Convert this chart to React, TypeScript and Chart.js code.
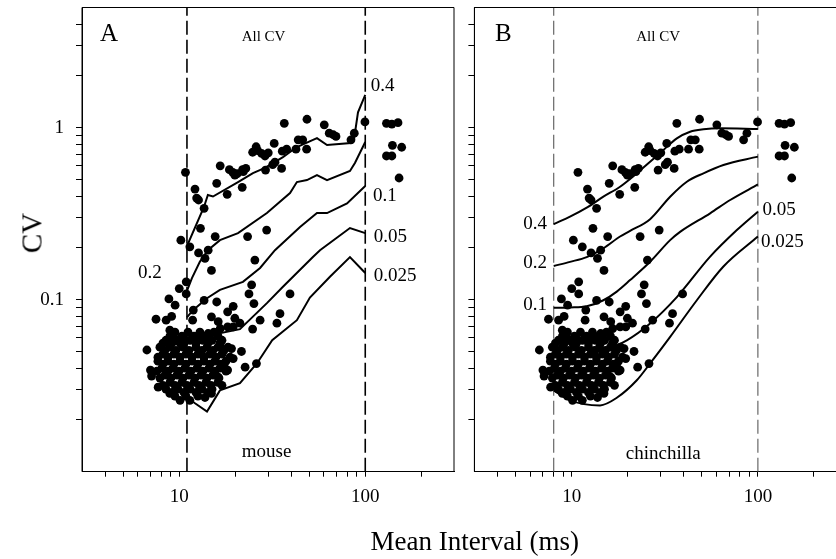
import React, { useEffect, useRef } from "react";
import { Chart, registerables } from "chart.js";
Chart.register(...registerables);

// ---------- axes ----------
const xMin = 3, xMax = 300;
const yMin = 0.01, yMax = 5;
const xTickValues = [4, 5, 6, 7, 8, 9, 10, 20, 30, 40, 50, 60, 70, 80, 90, 100, 200];
const xTickLabelValues = [10, 100];
const xTickLabels = ["10", "100"];
const yTickValues = [0.02, 0.03, 0.04, 0.05, 0.06, 0.07, 0.08, 0.09, 0.1, 0.2, 0.3, 0.4, 0.5, 0.6, 0.7, 0.8, 0.9, 1, 2, 3, 4];
const yTickLabelValues = [0.1, 1];
const yTickLabels = ["0.1", "1"];

// ---------- measured units (same data in both panels) ----------
const meanInterval = [
  10.8, 36.7, 48.6, 60.2, 64.0, 67.3, 69.6, 83.8, 87.3, 99.6,
  130, 139, 150, 140, 157, 130, 139, 152,
  12.15, 12.4, 12.7, 13.6, 15.9, 16.6, 18.1, 18.6, 19.4, 19.9, 20.5, 21.9, 22.8, 22.1, 21.8,
  24.8, 25.9, 26.4, 27.7, 28.9, 30.1, 29.1, 32.4, 31.8, 32.7, 35.5, 35.8, 37.8, 42.4, 43.6, 46.1, 48.4,
  10.2, 13.0, 15.6, 23.3, 29.5, 11.4, 12.7, 14.3, 13.75, 14.9,
  10.9, 10.0, 10.9, 25.5, 24.5, 23.7, 25.2, 39.4,
  13.6, 15.9, 19.5, 8.8, 9.5, 7.5, 8.5, 9.1,
  11.9, 11.8, 14.9, 16.2, 18.2, 19.9, 27.2, 24.8, 34.8, 33.5,
  6.7, 7.0, 7.1, 7.7, 8.9, 10.1, 11.4,
  22.6, 26.0, 12.2, 13.2, 14.3, 16.6, 18.2, 19.5,
  19.1, 21.6, 19.5, 18.2, 14.9, 21.2, 16.6, 17.6, 16.2, 13.75,
  10.6, 10.1, 8.9, 9.3,
  9.48, 11.14, 12.92, 15.37,
  8.48, 9.72, 11.42, 13.4, 15.0, 16.97,
  7.87, 8.91, 10.47, 12.3, 14.1, 16.15, 18.28,
  8.17, 9.36, 10.86, 12.6, 14.63, 16.97,
  7.68, 8.69, 10.09, 11.71, 13.58, 15.56, 17.83,
  8.07, 9.25, 10.73, 12.46, 14.45, 16.55,
  8.38, 9.72, 11.28, 13.08, 15.18,
  8.91, 10.34, 12.0, 13.92, 16.15,
  8.48, 9.84, 11.42, 13.25, 15.0,
  9.48, 10.86, 12.6,
  8.91, 10.34, 12.0, 13.92, 16.15,
  8.17, 9.13, 10.6, 12.3, 14.27, 16.55,
  8.38, 9.6, 11.28, 13.25, 15.18, 17.4,
  7.68, 8.69, 10.09, 11.71, 13.58, 15.75, 18.74,
  8.17, 9.36, 10.86, 12.6, 14.63, 16.76,
  7.58, 8.69, 9.97, 11.56, 13.4, 15.56, 17.83,
  7.87, 9.02, 10.47, 12.15, 14.1, 16.35,
  8.17, 9.48, 11.0, 12.77, 14.8, 16.97,
  9.13, 10.6, 12.3, 14.27,
];
const cvValues = [
  0.55, 1.06, 1.12, 1.04, 0.93, 0.91, 0.89, 0.85, 0.93, 1.08,
  1.06, 1.05, 1.07, 0.79, 0.77, 0.685, 0.685, 0.51,
  0.44, 0.39, 0.38, 0.34, 0.475, 0.60, 0.41, 0.57, 0.55, 0.53, 0.54, 0.57, 0.58, 0.555, 0.45,
  0.72, 0.775, 0.735, 0.71, 0.685, 0.715, 0.567, 0.81, 0.61, 0.63, 0.58, 0.73, 0.75, 0.75, 0.85, 0.85, 0.75,
  0.222, 0.26, 0.233, 0.233, 0.254, 0.203, 0.187, 0.194, 0.174, 0.148,
  0.127, 0.116, 0.108, 0.170, 0.122, 0.108, 0.095, 0.108,
  0.099, 0.097, 0.0915, 0.101, 0.093, 0.077, 0.076, 0.080,
  0.087, 0.076, 0.0795, 0.0745, 0.085, 0.078, 0.076, 0.0675, 0.083, 0.073,
  0.051, 0.039, 0.036, 0.031, 0.0285, 0.026, 0.026,
  0.0405, 0.0425, 0.0605, 0.0605, 0.0636, 0.068, 0.0695, 0.0695,
  0.052, 0.050, 0.0455, 0.039, 0.0285, 0.073, 0.054, 0.040, 0.0355, 0.027,
  0.0595, 0.056, 0.0665, 0.0605,
  0.0648, 0.0648, 0.0648, 0.0648,
  0.0581, 0.0581, 0.0581, 0.0581, 0.0581, 0.0581,
  0.053, 0.053, 0.053, 0.053, 0.053, 0.053, 0.053,
  0.0482, 0.0482, 0.0482, 0.0482, 0.0482, 0.0482,
  0.0439, 0.0439, 0.0439, 0.0439, 0.0439, 0.0439, 0.0439,
  0.040, 0.040, 0.040, 0.040, 0.040, 0.040,
  0.0364, 0.0364, 0.0364, 0.0364, 0.0364,
  0.0331, 0.0331, 0.0331, 0.0331, 0.0331,
  0.0302, 0.0302, 0.0302, 0.0302, 0.0302,
  0.0275, 0.0275, 0.0275,
  0.0614, 0.0614, 0.0614, 0.0614, 0.0614,
  0.0559, 0.0559, 0.0559, 0.0559, 0.0559, 0.0559,
  0.0508, 0.0508, 0.0508, 0.0508, 0.0508, 0.0508,
  0.0463, 0.0463, 0.0463, 0.0463, 0.0463, 0.0463, 0.0463,
  0.0422, 0.0422, 0.0422, 0.0422, 0.0422, 0.0422,
  0.0384, 0.0384, 0.0384, 0.0384, 0.0384, 0.0384, 0.0384,
  0.0350, 0.0350, 0.0350, 0.0350, 0.0350, 0.0350,
  0.0318, 0.0318, 0.0318, 0.0318, 0.0318, 0.0318,
  0.0289, 0.0289, 0.0289, 0.0289,
];

// ---------- model curves ----------
const curveLevels = ["0.4", "0.2", "0.1", "0.05", "0.025"];

const mouse040X = [11.0, 13.58, 14.25, 15.18, 20.7, 24.9, 28.9, 36.1, 42.9, 55.0, 62.3, 83.8, 86.9, 91.4, 100];
const mouse040Y = [0.205, 0.346, 0.406, 0.398, 0.483, 0.545, 0.584, 0.675, 0.772, 0.87, 0.793, 0.814, 0.848, 1.23, 1.55];
const mouse020X = [11.0, 11.7, 12.9, 14.25, 16.55, 20.7, 29.6, 39.4, 42.9, 48.6, 55.0, 62.3, 82.75, 88.0, 100];
const mouse020Y = [0.1125, 0.1335, 0.166, 0.194, 0.222, 0.244, 0.319, 0.417, 0.483, 0.496, 0.531, 0.496, 0.56, 0.623, 0.826];
const mouse010X = [11.0, 11.85, 14.1, 16.55, 22.0, 27.2, 32.7, 44.6, 55.0, 62.3, 79.8, 100];
const mouse010Y = [0.079, 0.0869, 0.102, 0.114, 0.127, 0.153, 0.194, 0.265, 0.319, 0.319, 0.363, 0.458];
const mouse005X = [11.0, 12.9, 21.2, 29.6, 36.1, 52.3, 57.1, 82.75, 100];
const mouse005Y = [0.0566, 0.0605, 0.0674, 0.0955, 0.119, 0.177, 0.194, 0.261, 0.244];
const mouse0025X = [11.0, 12.15, 14.1, 16.55, 21.2, 26.2, 31.6, 42.9, 50.4, 64.6, 82.75, 100];
const mouse0025Y = [0.0271, 0.025, 0.0224, 0.0297, 0.0327, 0.0427, 0.0581, 0.076, 0.103, 0.136, 0.177, 0.143];

const chin040X = [8, 9.79, 12.04, 14.79, 18.18, 22.36, 26.36, 31.08, 36.7, 43.25, 51.0, 62.7, 100];
const chin040Y = [0.275, 0.304, 0.343, 0.397, 0.454, 0.543, 0.634, 0.742, 0.867, 0.948, 0.979, 0.992, 0.983];
const chin020X = [8, 9.79, 12.04, 14.79, 18.18, 20.58, 26.36, 33.78, 41.53, 51.0, 65.3, 100];
const chin020Y = [0.157, 0.166, 0.177, 0.199, 0.233, 0.251, 0.294, 0.397, 0.485, 0.543, 0.607, 0.679];
const chin010X = [8, 9.79, 12.04, 14.79, 17.46, 20.58, 26.36, 33.78, 38.2, 55.4, 70.96, 100];
const chin010Y = [0.0898, 0.0902, 0.0916, 0.0993, 0.1115, 0.130, 0.1662, 0.222, 0.248, 0.318, 0.380, 0.468];
const chin005X = [8, 11.08, 14.79, 19.76, 26.36, 36.7, 55.4, 77.1, 100];
const chin005Y = [0.0488, 0.0475, 0.0508, 0.0581, 0.0728, 0.1036, 0.178, 0.254, 0.325];
const chin0025X = [8, 9.79, 14.19, 17.46, 22.36, 26.36, 33.78, 47, 65.3, 100];
const chin0025Y = [0.0297, 0.026, 0.0243, 0.0269, 0.034, 0.0426, 0.0608, 0.0993, 0.156, 0.233];

// analysis window boundaries (dashed lines)
const mouseBounds = [11, 100];
const chinchillaBounds = [8, 100];

const FONT = '"Liberation Serif", "Times New Roman", serif';

type TextItem = { t: string; x: number; y: number; size: number; align: CanvasTextAlign };

type Panel = {
  curvesX: number[][];
  curvesY: number[][];
  smooth: boolean;
  bounds: number[];
  dashColor: string;
  dashWidth: number;
  yAxisWidth: number;
  padRight: number;
  showYLabels: boolean;
  texts: TextItem[];
};

const panelA: Panel = {
  curvesX: [mouse040X, mouse020X, mouse010X, mouse005X, mouse0025X],
  curvesY: [mouse040Y, mouse020Y, mouse010Y, mouse005Y, mouse0025Y],
  smooth: false,
  bounds: mouseBounds,
  dashColor: "#000",
  dashWidth: 1.6,
  yAxisWidth: 82,
  padRight: 8,
  showYLabels: true,
  texts: [
    { t: "A", x: 4.19, y: 3.48, size: 25, align: "center" },
    { t: "All CV", x: 28.4, y: 3.38, size: 15, align: "center" },
    { t: "mouse", x: 29.5, y: 0.013, size: 19, align: "center" },
    { t: curveLevels[0], x: 107, y: 1.75, size: 19, align: "left" },
    { t: curveLevels[1], x: 8.04, y: 0.143, size: 19, align: "right" },
    { t: curveLevels[2], x: 110, y: 0.40, size: 19, align: "left" },
    { t: curveLevels[3], x: 111, y: 0.231, size: 19, align: "left" },
    { t: curveLevels[4], x: 111, y: 0.137, size: 19, align: "left" },
  ],
};

const panelB: Panel = {
  curvesX: [chin040X, chin020X, chin010X, chin005X, chin0025X],
  curvesY: [chin040Y, chin020Y, chin010Y, chin005Y, chin0025Y],
  smooth: true,
  bounds: chinchillaBounds,
  dashColor: "#666",
  dashWidth: 1.2,
  yAxisWidth: 12.4,
  padRight: 15.3,
  showYLabels: false,
  texts: [
    { t: "B", x: 4.29, y: 3.48, size: 25, align: "center" },
    { t: "All CV", x: 29.1, y: 3.38, size: 15, align: "center" },
    { t: "chinchilla", x: 31.0, y: 0.0127, size: 19, align: "center" },
    { t: curveLevels[0], x: 7.37, y: 0.275, size: 19, align: "right" },
    { t: curveLevels[1], x: 7.37, y: 0.163, size: 19, align: "right" },
    { t: curveLevels[2], x: 7.37, y: 0.0928, size: 19, align: "right" },
    { t: curveLevels[3], x: 106, y: 0.332, size: 19, align: "left" },
    { t: curveLevels[4], x: 104, y: 0.216, size: 19, align: "left" },
  ],
};

function labelFor(v: number, vals: number[], labels: string[]) {
  for (let i = 0; i < vals.length; i++) {
    if (Math.abs(v - vals[i]) < vals[i] * 1e-6) return labels[i];
  }
  return "";
}

function framePlugin(texts: TextItem[]) {
  return {
    id: "frameAndText",
    afterDraw(chart: any) {
      const { ctx, chartArea } = chart;
      const { left, top, right, bottom } = chartArea;
      const xs = chart.scales.x;
      const ys = chart.scales.y;
      ctx.save();
      ctx.strokeStyle = "#000";
      ctx.lineWidth = 1;
      ctx.beginPath();
      ctx.moveTo(left, bottom);
      ctx.lineTo(left, top);
      ctx.lineTo(right, top);
      ctx.lineTo(right, bottom);
      ctx.stroke();
      ctx.fillStyle = "#000";
      ctx.textBaseline = "middle";
      texts.forEach((t) => {
        ctx.font = `${t.size}px ${FONT}`;
        ctx.textAlign = t.align;
        ctx.fillText(t.t, xs.getPixelForValue(t.x), ys.getPixelForValue(t.y));
      });
      ctx.restore();
    },
  };
}

function buildConfig(p: Panel): any {
  const n = Math.min(meanInterval.length, cvValues.length);
  const points = [];
  for (let i = 0; i < n; i++) points.push({ x: meanInterval[i], y: cvValues[i] });
  const datasets: any[] = [
    { data: points, pointRadius: 4.4, pointBackgroundColor: "#000", backgroundColor: "#000", pointBorderWidth: 0, borderWidth: 0, showLine: false },
  ];
  p.curvesX.forEach((cx, k) => {
    const cy = p.curvesY[k];
    datasets.push({
      data: cx.map((x, i) => ({ x, y: cy[i] })),
      showLine: true,
      borderColor: "#000",
      borderWidth: 2,
      pointRadius: 0,
      fill: false,
      tension: 0,
      cubicInterpolationMode: p.smooth ? "monotone" : "default",
    });
  });
  p.bounds.forEach((b) => {
    datasets.push({
      data: [{ x: b, y: yMin }, { x: b, y: yMax }],
      showLine: true,
      borderColor: p.dashColor,
      borderWidth: p.dashWidth,
      borderDash: [14, 5],
      pointRadius: 0,
      fill: false,
    });
  });
  return {
    type: "scatter",
    data: { datasets },
    options: {
      responsive: false,
      animation: false,
      devicePixelRatio: 1,
      layout: { padding: { left: 0, right: p.padRight, top: 7.5, bottom: 37.3 } },
      plugins: { legend: { display: false }, tooltip: { enabled: false } },
      scales: {
        x: {
          type: "logarithmic",
          position: "bottom",
          min: xMin,
          max: xMax,
          afterBuildTicks: (s: any) => {
            s.ticks = xTickValues.map((v) => ({ value: v }));
          },
          afterFit: (s: any) => {
            s.height = 50;
            s.paddingLeft = 0;
            s.paddingRight = 0;
            s.paddingTop = 0;
            s.paddingBottom = 0;
          },
          ticks: {
            autoSkip: false,
            maxRotation: 0,
            minRotation: 0,
            color: "#000",
            padding: 9,
            font: { family: FONT, size: 19 },
            callback: (v: any) => labelFor(Number(v), xTickLabelValues, xTickLabels),
          },
          grid: { display: true, drawOnChartArea: false, drawTicks: true, tickLength: 5, color: "#000", lineWidth: 1 },
          border: { display: true, color: "#000", width: 1 },
        },
        y: {
          type: "logarithmic",
          position: "left",
          min: yMin,
          max: yMax,
          afterBuildTicks: (s: any) => {
            s.ticks = yTickValues.map((v) => ({ value: v }));
          },
          afterFit: (s: any) => {
            s.width = p.yAxisWidth;
            s.paddingTop = 0;
            s.paddingBottom = 0;
            s.paddingLeft = 0;
            s.paddingRight = 0;
          },
          ticks: {
            autoSkip: false,
            color: "#000",
            padding: 12,
            font: { family: FONT, size: 19 },
            callback: (v: any) => (p.showYLabels ? labelFor(Number(v), yTickLabelValues, yTickLabels) : ""),
          },
          grid: { display: true, drawOnChartArea: false, drawTicks: true, tickLength: 6, color: "#000", lineWidth: 1 },
          border: { display: true, color: "#000", width: 1 },
        },
      },
    },
    plugins: [framePlugin(p.texts)],
  };
}

export default function App() {
  const refA = useRef<HTMLCanvasElement>(null);
  const refB = useRef<HTMLCanvasElement>(null);
  useEffect(() => {
    const a = new Chart(refA.current as HTMLCanvasElement, buildConfig(panelA));
    const b = new Chart(refB.current as HTMLCanvasElement, buildConfig(panelB));
    return () => {
      a.destroy();
      b.destroy();
    };
  }, []);
  return (
    <div style={{ position: "absolute", left: 0, top: 0, width: 836, height: 559, overflow: "hidden", background: "#fff" }}>
      <canvas ref={refA} width={462} height={559} style={{ position: "absolute", left: 0, top: 0, width: 462, height: 559 }} />
      <canvas ref={refB} width={400} height={559} style={{ position: "absolute", left: 462, top: 0, width: 400, height: 559 }} />
      <div
        style={{
          position: "absolute",
          left: 31.7,
          top: 233,
          transform: "translate(-50%, -50%) rotate(-90deg)",
          font: `29px ${FONT}`,
          whiteSpace: "nowrap",
          color: "#000",
        }}
      >
        CV
      </div>
      <div
        style={{
          position: "absolute",
          left: 474.7,
          top: 541,
          transform: "translate(-50%, -50%)",
          font: `27px ${FONT}`,
          whiteSpace: "nowrap",
          color: "#000",
        }}
      >
        Mean Interval (ms)
      </div>
    </div>
  );
}
